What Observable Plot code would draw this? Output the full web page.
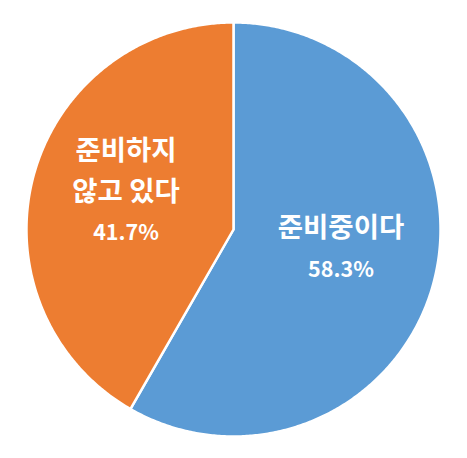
<!DOCTYPE html>
<html>
<head>
<meta charset="utf-8">
<script src="https://cdn.jsdelivr.net/npm/d3@7"></script>
<script src="https://cdn.jsdelivr.net/npm/@observablehq/plot@0.6"></script>
<style>
  html, body { margin: 0; padding: 0; background: #fff; }
  svg { display: block; }
</style>
</head>
<body>
<div id="chart"></div>
<script>
const categories = ["준비중이다", "준비하지\n않고 있다"];
const values = [58.3, 41.7];
const colors = ["#5B9BD5", "#ED7D31"];

const data = categories.map((c, i) => ({ key: c, value: values[i] }));
const arcs = d3.pie().sort(null).value(d => d.value)(data);

// sector outlines in unit-circle coordinates (x = sin a, y = cos a; clockwise from 12 o'clock)
const R = 1.005;
const sectorPts = [];
arcs.forEach(a => {
  sectorPts.push({ key: a.data.key, x: 0, y: 0 });
  const n = Math.max(2, Math.ceil((a.endAngle - a.startAngle) / (Math.PI / 360)));
  for (let k = 0; k <= n; k++) {
    const t = a.startAngle + (a.endAngle - a.startAngle) * k / n;
    sectorPts.push({ key: a.data.key, x: R * Math.sin(t), y: R * Math.cos(t) });
  }
});

// label lines placed around each slice's mid-angle
const rPx = 206;
const lineGap = 41 / rPx;
const shiftUp = 9 / rPx;
const labelR = 0.54;
const labelLines = [];
arcs.forEach(a => {
  const mid = (a.startAngle + a.endAngle) / 2;
  const cx = labelR * Math.sin(mid);
  const cy = labelR * Math.cos(mid) + shiftUp;
  const lines = a.data.key.split("\n").map(t => ({ t, kind: "name" }));
  lines.push({ t: `${a.data.value.toFixed(1)}%`, kind: "pct" });
  const n = lines.length;
  lines.forEach((l, i) => {
    labelLines.push({ x: cx, y: cy - (i - (n - 1) / 2) * lineGap, text: l.t, kind: l.kind });
  });
});

const chart = Plot.plot({
  width: 467,
  height: 458,
  marginLeft: 27,
  marginRight: 28,
  marginTop: 23,
  marginBottom: 23,
  x: { domain: [-1, 1], axis: null },
  y: { domain: [-1, 1], axis: null },
  color: { domain: categories, range: colors },
  style: { background: "#fff", fontFamily: "'Noto Sans CJK KR', 'Noto Sans', sans-serif" },
  marks: [
    Plot.line(sectorPts, {
      x: "x", y: "y", z: "key", fill: "key",
      stroke: "white", strokeWidth: 2.5, curve: "linear-closed"
    }),
    Plot.text(labelLines.filter(d => d.kind === "name"), {
      x: "x", y: "y", text: "text", fill: "white",
      fontSize: 27.5, fontWeight: "bold", fontFamily: "'Noto Sans CJK KR', sans-serif"
    }),
    Plot.text(labelLines.filter(d => d.kind === "pct"), {
      x: "x", y: "y", text: "text", fill: "white",
      fontSize: 21.5, fontWeight: "bold", fontFamily: "'Noto Sans CJK KR', sans-serif"
    })
  ]
});
document.getElementById("chart").appendChild(chart);
</script>
</body>
</html>
